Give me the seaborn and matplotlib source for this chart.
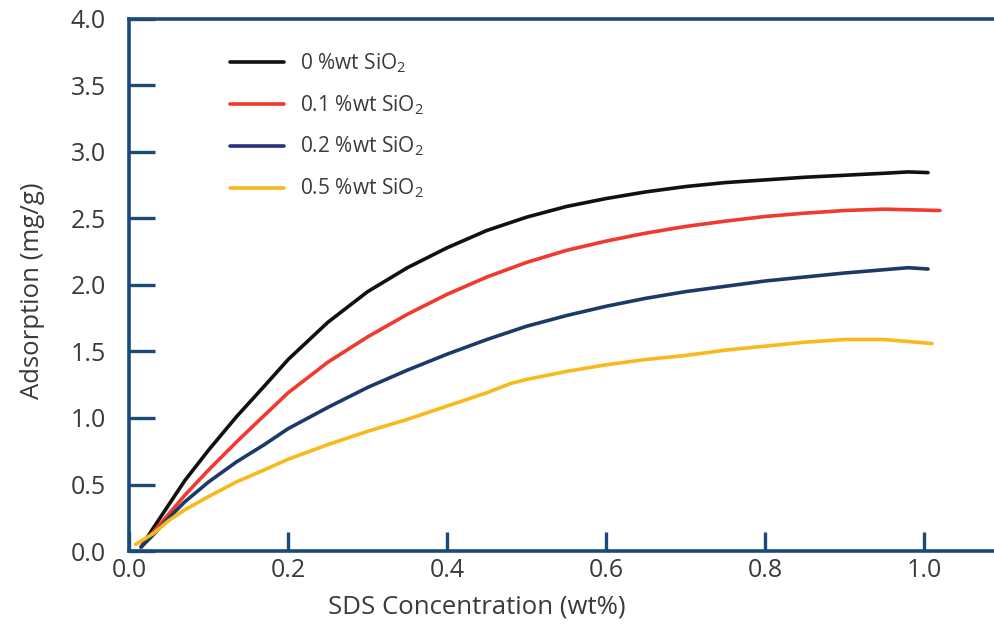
import numpy as np
import pandas as pd
import seaborn as sns
import matplotlib.pyplot as plt

# values
x_0 = [0.015, 0.03, 0.05, 0.07, 0.10, 0.135, 0.17, 0.20, 0.25, 0.30, 0.35, 0.40, 0.45, 0.50, 0.55,
       0.60, 0.65, 0.70, 0.75, 0.80, 0.85, 0.90, 0.95, 0.98, 1.005]
y_0 = [0.03, 0.17, 0.35, 0.53, 0.76, 1.01, 1.24, 1.44, 1.72, 1.95, 2.13, 2.28, 2.41, 2.51, 2.59,
       2.65, 2.70, 2.74, 2.77, 2.79, 2.81, 2.825, 2.84, 2.85, 2.845]

x_01 = [0.015, 0.03, 0.05, 0.07, 0.10, 0.135, 0.17, 0.20, 0.25, 0.30, 0.35, 0.40, 0.45, 0.50, 0.55,
        0.60, 0.65, 0.70, 0.75, 0.80, 0.85, 0.90, 0.95, 1.02]
y_01 = [0.03, 0.14, 0.28, 0.42, 0.61, 0.82, 1.02, 1.19, 1.42, 1.61, 1.78, 1.93, 2.06, 2.17, 2.26,
        2.33, 2.39, 2.44, 2.48, 2.515, 2.54, 2.56, 2.57, 2.56]

x_02 = [0.015, 0.03, 0.05, 0.07, 0.10, 0.135, 0.17, 0.20, 0.25, 0.30, 0.35, 0.40, 0.45, 0.50, 0.55,
        0.60, 0.65, 0.70, 0.75, 0.80, 0.85, 0.90, 0.95, 0.98, 1.005]
y_02 = [0.03, 0.12, 0.25, 0.37, 0.52, 0.67, 0.80, 0.92, 1.08, 1.23, 1.36, 1.48, 1.59, 1.69, 1.77,
        1.84, 1.90, 1.95, 1.99, 2.03, 2.06, 2.09, 2.115, 2.13, 2.12]

x_05 = [0.008, 0.03, 0.05, 0.07, 0.10, 0.135, 0.17, 0.20, 0.25, 0.30, 0.35, 0.40, 0.45, 0.48, 0.50,
        0.55, 0.60, 0.65, 0.70, 0.75, 0.80, 0.85, 0.90, 0.95, 1.01]
y_05 = [0.05, 0.13, 0.23, 0.31, 0.41, 0.52, 0.61, 0.69, 0.80, 0.90, 0.99, 1.09, 1.19, 1.26, 1.29,
        1.35, 1.40, 1.44, 1.47, 1.51, 1.54, 1.57, 1.59, 1.59, 1.56]

labels = ["0 %wt SiO$_2$", "0.1 %wt SiO$_2$", "0.2 %wt SiO$_2$", "0.5 %wt SiO$_2$"]
colors = ["#111111", "#f03a2e", "#1c3a68", "#f8b91d"]
legend_colors = ["#111111", "#f03a2e", "#2b2f7c", "#f8b91d"]

frames = []
for lab, xs, ys in zip(labels, [x_0, x_01, x_02, x_05], [y_0, y_01, y_02, y_05]):
    frames.append(pd.DataFrame({"conc": xs, "ads": ys, "series": lab}))
df = pd.concat(frames, ignore_index=True)

sns.set_style("white")
plt.rcParams["font.family"] = ["Open Sans", "DejaVu Sans"]
plt.rcParams["mathtext.fontset"] = "custom"
plt.rcParams["mathtext.rm"] = "Open Sans"
plt.rcParams["mathtext.default"] = "regular"
plt.rcParams["lines.solid_joinstyle"] = "round"

spine_col = "#1b4a78"
text_col = "#3a3a3a"

fig = plt.figure(figsize=(9.94, 6.28), dpi=100)
ax = fig.add_axes([0.13, 0.1226, 0.87, 0.8472])

sns.lineplot(data=df, x="conc", y="ads", hue="series", palette=dict(zip(labels, colors)),
             sort=False, estimator=None, linewidth=2.6, legend=False, ax=ax)

ax.set_xlim(0, 1.088)
ax.set_ylim(0, 4.0)
ax.set_xticks(np.arange(0, 1.01, 0.2))
ax.set_yticks(np.arange(0, 4.01, 0.5))
ax.set_xticklabels([f"{v:.1f}" for v in np.arange(0, 1.01, 0.2)])
ax.set_yticklabels([f"{v:.1f}" for v in np.arange(0, 4.01, 0.5)])

for side in ["left", "bottom", "top"]:
    ax.spines[side].set_color(spine_col)
    ax.spines[side].set_linewidth(2.6)
ax.spines["right"].set_visible(False)

ax.tick_params(axis="y", direction="in", length=19, width=2.4, color=spine_col,
               labelsize=18, labelcolor=text_col, pad=17, left=True)
ax.tick_params(axis="x", direction="in", length=14, width=2.4, color=spine_col,
               labelsize=18, labelcolor=text_col, pad=5, bottom=True)

ax.set_xlabel("SDS Concentration (wt%)", fontsize=18.5, color=text_col)
ax.set_ylabel("Adsorption (mg/g)", fontsize=18.5, color=text_col)
ax.xaxis.set_label_coords(0.402, -0.082)
ax.yaxis.set_label_coords(-0.097, 0.49)

handles = [plt.Line2D([], [], color=c, linewidth=2.6) for c in legend_colors]
leg = ax.legend(handles, labels, loc="upper left", bbox_to_anchor=(0.095, 0.975),
                frameon=False, fontsize=15, handlelength=2.6, handletextpad=0.75,
                labelspacing=0.88)
for t in leg.get_texts():
    t.set_color(text_col)

fig.savefig("out.png", dpi=100)
